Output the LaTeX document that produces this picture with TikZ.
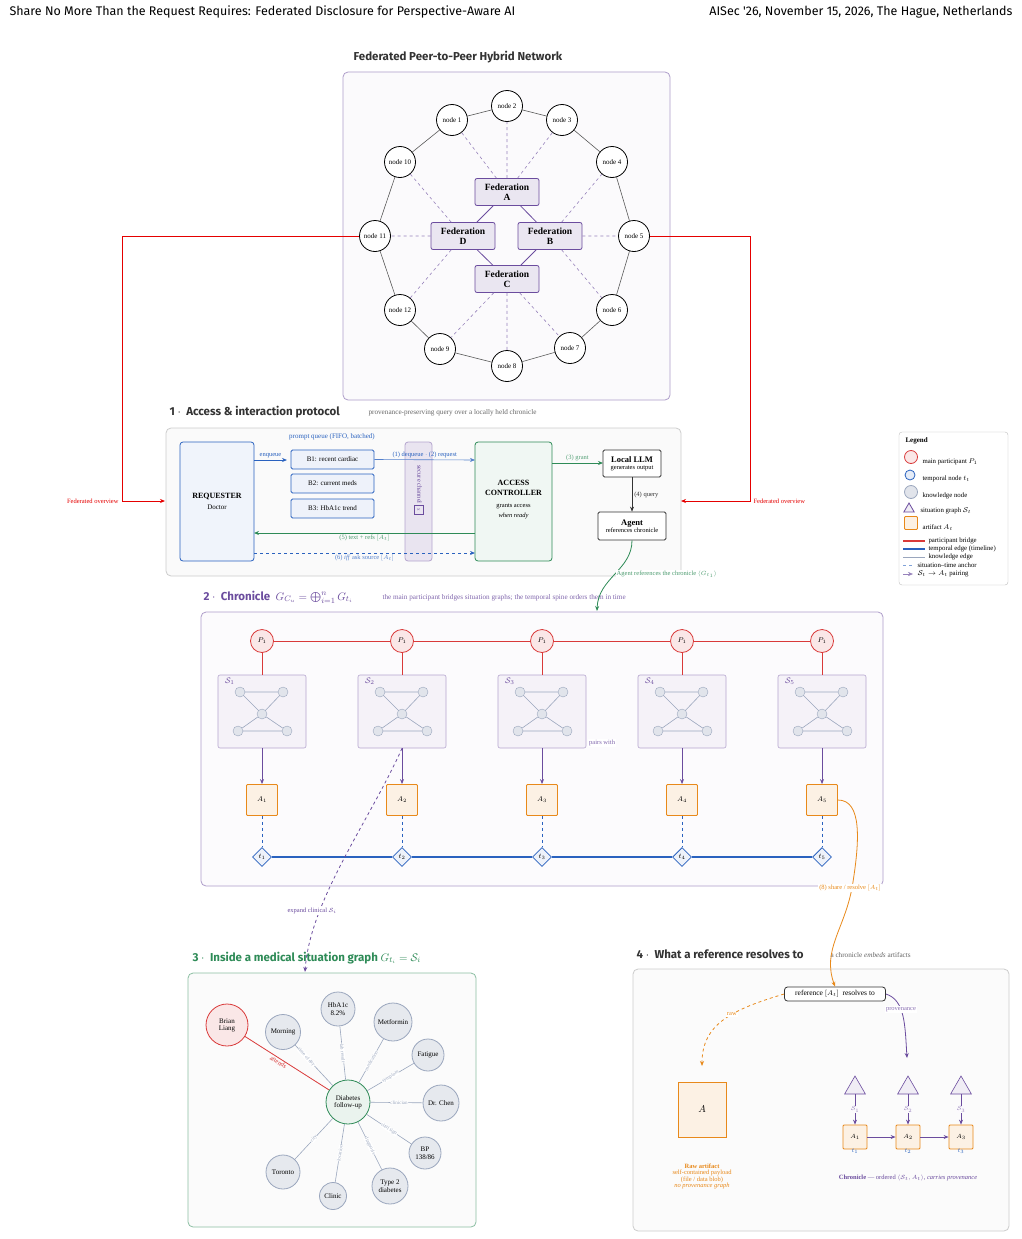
\documentclass[tikz,border=0pt]{standalone}
\usepackage{fontspec}
\setmainfont{Liberation Serif}
\newfontfamily\hsans{Fira Sans}
\usetikzlibrary{shapes.geometric,arrows.meta}
\definecolor{cred}{HTML}{D93A3A}
\definecolor{cblue}{HTML}{2A62BF}
\definecolor{cpur}{HTML}{6B4C9E}
\definecolor{cgreen}{HTML}{2E8B57}
\definecolor{corange}{HTML}{E8891A}
\definecolor{cgray}{HTML}{9AA6BD}
\definecolor{ctext}{HTML}{333333}
\begin{document}
\begin{tikzpicture}[x=1pt,y=-1pt,
  fs/.style={font=\fontsize{#1}{#1}\selectfont},
  ring/.style={circle,draw,thick,minimum size=31,inner sep=0,font=\fontsize{7}{7}\selectfont},
  fed/.style={rectangle,rounded corners=2,draw=cpur,fill=cpur!14,thick,minimum width=64,minimum height=27,align=center,font=\fontsize{9.5}{10}\selectfont\bfseries,inner sep=1},
  panel/.style={rounded corners=5,draw=#1,thick},
  box/.style={rectangle,rounded corners=1.5,draw,thick,align=center,inner sep=1},
  kn/.style={circle,draw=cgray,fill=cgray!25,thick,inner sep=0,align=center,font=\fontsize{7}{8}\selectfont},
  el/.style={sloped,fill=white,inner sep=0.3,text=cgray,font=\fontsize{5}{5}\selectfont},
  sn/.style={circle,draw=cgray,fill=cgray!30,inner sep=0,minimum size=10},
  art/.style={rectangle,rounded corners=1,draw=corange,fill=corange!12,thick,minimum size=31,inner sep=0,font=\fontsize{7.5}{8}\selectfont},
  arr/.style={-{Stealth[length=5,width=4]}},
  title/.style={anchor=west,font=\hsans\bfseries\fontsize{11.5}{12}\selectfont},
  sub/.style={anchor=west,font=\fontsize{7.2}{8}\selectfont},
  lgt/.style={anchor=west,font=\fontsize{6.8}{7}\selectfont},
]
\useasboundingbox (0,0) rectangle (1021,1239);
\fill[white] (0,0) rectangle (1021,1239);
% header
\node[anchor=west,font=\hsans\fontsize{12.5}{13}\selectfont,text=black] (h1) at (6,12) {Share No More Than the Request Requires: Federated Disclosure for Perspective-Aware AI};
\node[anchor=east,font=\hsans\fontsize{12.5}{13}\selectfont,text=black] (h2) at (1016,12) {AISec '26, November 15, 2026, The Hague, Netherlands};

% ===== network =====
\node[font=\hsans\bfseries\fontsize{11.5}{12}\selectfont,text=ctext] (nt) at (458,57) {Federated Peer-to-Peer Hybrid Network};
\draw[panel=cpur!55,fill=cpur!3] (343,72) rectangle (670,400);
\foreach \n/\x/\y in {1/452/120,2/507/106,3/562/120,4/612/162,5/634/236,6/612/310,7/570/348,8/507/366,9/440/349,12/400/310,11/375/236,10/400/162}
  \node[ring,fill=white] (n\n) at (\x,\y) {node \n};
\foreach \a/\b in {1/2,2/3,3/4,4/5,5/6,6/7,7/8,8/9,9/12,12/11,11/10,10/1}
  \draw[gray!70!black,semithick] (n\a) -- (n\b);
\node[fed] (fA) at (507,192) {Federation\\A};
\node[fed] (fD) at (463,236) {Federation\\D};
\node[fed] (fB) at (550,236) {Federation\\B};
\node[fed] (fC) at (507,279) {Federation\\C};
\draw[cpur,thick] (fA) -- (fD) (fA) -- (fB) (fD) -- (fC) (fB) -- (fC);
\foreach \f/\a/\b/\c in {A/1/2/3,B/4/5/6,C/7/8/9,D/10/11/12}
  \draw[cpur!70,dashed,semithick] (f\f) -- (n\a) (f\f) -- (n\b) (f\f) -- (n\c);

% ===== section 1 =====
\node[title,text=ctext] (t1) at (166,412) {1 $\cdot$\ \ Access \& interaction protocol};
\node[sub,text=gray!80!black] (t1s) at (365,413) {provenance-preserving query over a locally held chronicle};
\draw[panel=gray!40,fill=gray!4] (166,428) rectangle (681,576);
\node[box,draw=cblue,fill=cblue!7,minimum width=74,minimum height=119,rounded corners=3] (req) at (217,501.5) {};
\node[font=\fontsize{8}{10}\selectfont,align=center] (reqt) at (217,501) {\textbf{REQUESTER}\\[1pt]{\fontsize{7}{7}\selectfont Doctor}};
\node[text=cblue,fs=7] (pq) at (332,437) {prompt queue (FIFO, batched)};
\node[box,draw=cblue,fill=cblue!8,minimum width=83,minimum height=19,fs=7] (b1) at (332.5,459.5) {B1: recent cardiac};
\node[box,draw=cblue,fill=cblue!8,minimum width=83,minimum height=19,fs=7] (b2) at (332.5,483.5) {B2: current meds};
\node[box,draw=cblue,fill=cblue!8,minimum width=83,minimum height=19,fs=7] (b3) at (332.5,508.5) {B3: HbA1c trend};
\node[box,draw=cpur!50,fill=cpur!15,minimum width=27,minimum height=119,rounded corners=3] (sec) at (418.5,501.5) {};
\node[rotate=-90,text=cpur,fs=6.5] (sect) at (418.5,490) {secure channel \fbox{\tiny x}};
\node[box,draw=cgreen,fill=cgreen!7,minimum width=77,minimum height=119,rounded corners=3] (ac) at (513.5,501.5) {};
\node[font=\fontsize{8}{10}\selectfont,align=center] (act) at (513.5,500) {\textbf{ACCESS}\\\textbf{CONTROLLER}\\[2pt]{\fontsize{6.5}{8.5}\selectfont grants access}\\{\fontsize{6.5}{8.5}\selectfont\itshape when ready}};
\node[box,draw=ctext,fill=white,minimum width=58,minimum height=27,fs=6.5] (llm) at (632,463.5) {{\fontsize{8.5}{9.5}\selectfont\bfseries Local LLM}\\generates output};
\node[box,draw=ctext,fill=white,minimum width=68,minimum height=28,fs=6.5] (ag) at (632,526) {{\fontsize{8.5}{9.5}\selectfont\bfseries Agent}\\references chronicle};
\coordinate (eqs) at (254,460); \coordinate (eqe) at (287,460);
\draw[cblue,thick,arr] (eqs) -- node[above,fs=6.5,inner sep=1.5,text=cblue]{enqueue} (eqe);
\coordinate (dq) at (475,460);
\draw[cblue!80,semithick,arr] (b1.east) -- node[above,fs=6.5,inner sep=1.5,text=cblue]{(1) dequeue $\cdot$ (2) request} (dq);
\coordinate (gs) at (552,463); \coordinate (ge) at (603,463);
\draw[cgreen,thick,arr] (gs) -- node[above,fs=6.5,inner sep=1.5,text=cgreen!80]{(3) grant} (ge);
\draw[ctext,semithick,arr] (llm) -- node[right,fs=6.5,inner sep=2]{(4) query} (ag);
\coordinate (r5s) at (475,533); \coordinate (r5e) at (254,533);
\draw[cgreen,thick,arr] (r5s) -- node[below,fs=6.5,text=cgreen!85,inner sep=2]{(5) text + refs $[A_t]$} (r5e);
\coordinate (r6s) at (254,553); \coordinate (r6e) at (475,553);
\draw[cblue,thick,dashed,arr] (r6s) -- node[below,fs=6.5,text=cblue!80,inner sep=2]{(6) \textit{iff} ask source $[A_t]$} (r6e);
% red bridges
\coordinate (rl1) at (122,236); \coordinate (rl2) at (122,501); \coordinate (rl3) at (165,501);
\draw[red!90!black,thick,arr] (n11.west) -- (rl1) -- (rl2) -- (rl3);
\node[fs=6.5,text=red!90!black,anchor=east] (fo1) at (122,501) {Federated overview};
\coordinate (rr1) at (750,236); \coordinate (rr2) at (750,501); \coordinate (rr3) at (681,501);
\draw[red!90!black,thick,arr] (n5.east) -- (rr1) -- (rr2) -- (rr3);
\node[fs=6.5,text=red!90!black,anchor=west] (fo2) at (750,501) {Federated overview};

% ===== legend =====
\draw[rounded corners=3,draw=gray!50,fill=white] (899,432) rectangle (1008,585);
\node[anchor=west,font=\fontsize{7}{7}\selectfont\bfseries] (lg) at (902,441) {Legend};
\node[circle,draw=cred,fill=cred!12,thick,minimum size=13,inner sep=0] (lg1) at (911,457) {};
\node[lgt] (lg1t) at (919,462) {main participant $P_1$};
\node[circle,draw=cblue,fill=cblue!12,thick,minimum size=10,inner sep=0] (lg2) at (910,475) {};
\node[lgt] (lg2t) at (919,479) {temporal node $t_t$};
\node[circle,draw=cgray,fill=cgray!30,thick,minimum size=13,inner sep=0] (lg3) at (911,492) {};
\node[lgt] (lg3t) at (919,496) {knowledge node};
\node[regular polygon,regular polygon sides=3,draw=cpur,fill=cpur!10,thick,minimum size=12,inner sep=0] (lg4) at (909,509) {};
\node[lgt] (lg4t) at (917,511) {situation graph $\mathcal{S}_t$};
\node[rectangle,rounded corners=1,draw=corange,fill=corange!12,thick,minimum size=13,inner sep=0] (lg5) at (911,523) {};
\node[lgt] (lg5t) at (919,528) {artifact $A_t$};
\coordinate (la1) at (903,541); \coordinate (lb1) at (925,541);
\draw[cred,very thick] (la1) -- (lb1);
\node[lgt] (lg6) at (925,541) {participant bridge};
\coordinate (la2) at (903,549); \coordinate (lb2) at (925,549);
\draw[cblue,very thick] (la2) -- (lb2);
\node[lgt] (lg7) at (925,549) {temporal edge (timeline)};
\coordinate (la3) at (903,557); \coordinate (lb3) at (925,557);
\draw[cgray,thick] (la3) -- (lb3);
\node[lgt] (lg8) at (925,557) {knowledge edge};
\coordinate (la4) at (903,565); \coordinate (lb4) at (913,565);
\draw[cblue!60,dashed] (la4) -- (lb4);
\node[lgt] (lg9) at (914,565) {situation--time anchor};
\coordinate (la5) at (903,574); \coordinate (lb5) at (913,574);
\draw[cpur!70,arr] (la5) -- (lb5);
\node[lgt] (lg10) at (914,574) {$\mathcal{S}_t\to A_t$ pairing};

% ===== section 2 =====
\node[title,text=cpur] (t2) at (200,597) {2 $\cdot$\ \ Chronicle\ \ {\mdseries\fontsize{11}{12}\selectfont $G_{C_u}=\bigoplus_{i=1}^{n}G_{t_i}$}};
\node[sub,text=cpur!85] (t2s) at (379,598) {the main participant bridges situation graphs; the temporal spine orders them in time};
\draw[panel=cpur!55,fill=cpur!2] (201,612) rectangle (883,886);
\foreach \i/\x in {1/262,2/402,3/542,4/682,5/822}{
  \node[circle,draw=cred,fill=cred!12,thick,minimum size=23,inner sep=0,fs=7.5] (p\i) at (\x,641) {$P_1$};
  \node[rectangle,rounded corners=2,draw=cpur!50,fill=cpur!7,semithick,minimum width=88,minimum height=73] (s\i) at (\x,711.5) {};
  \node[anchor=north west,text=cpur,fs=8,inner sep=1] at (\x-38,677) {$\mathcal{S}_{\i}$};
  \node[sn] (sa\i) at (\x-22,692) {};
  \node[sn] (sb\i) at (\x+21,692) {};
  \node[sn] (sc\i) at (\x,714) {};
  \node[sn] (sd\i) at (\x-24,731) {};
  \node[sn] (se\i) at (\x+25,731) {};
  \draw[cgray,semithick] (sa\i) -- (sb\i) (sd\i) -- (se\i) (sa\i) -- (sc\i) (sb\i) -- (sc\i) (sc\i) -- (sd\i) (sc\i) -- (se\i);
  \node[art] (a\i) at (\x,800) {$A_{\i}$};
  \node[diamond,draw=cblue,fill=cblue!8,thick,minimum size=19,inner sep=0,fs=7.5] (t\i) at (\x,857) {$t_{\i}$};
  \draw[cred,thick] (p\i) -- (s\i);
  \draw[cpur,thick,arr] (s\i) -- (a\i);
  \draw[cblue,semithick,dashed] (a\i) -- (t\i);
}
\foreach \a/\b in {1/2,2/3,3/4,4/5}{
  \draw[cred,thick] (p\a) -- (p\b);
  \draw[cblue,very thick] (t\a) -- (t\b);}
\node[anchor=west,fs=6.5,text=cpur!85,fill=white,inner sep=1] (pw) at (588,743) {pairs with};
% agent curve
\coordinate (c2) at (597,611);
\draw[cgreen,thick,arr] (ag.south) .. controls (632,570) and (598,578) .. (c2);
\node[anchor=west,fs=6.5,text=cgreen!85,fill=white,inner sep=0.5] (agl) at (616,574) {Agent references the chronicle $\langle G_{t_1}\rangle$};

% ===== section 3 =====
\node[title,text=cgreen] (t3) at (189,958) {3 $\cdot$\ \ Inside a medical situation graph {\mdseries\fontsize{11}{12}\selectfont $G_{t_i}=\mathcal{S}_i$}};
\draw[panel=cgreen!55,fill=gray!3] (188,973) rectangle (476,1227);
\coordinate (c3) at (305,972);
\draw[cpur,thick,dashed,arr] (s2.south) .. controls (370,820) and (310,900) .. (c3);
\node[fs=6.5,text=cpur,fill=white,inner sep=1] (exl) at (312,911) {expand clinical $\mathcal{S}_i$};
\node[circle,draw=cgreen,fill=cgreen!10,thick,minimum size=44,inner sep=0,align=center,fs=7] (dia) at (348,1102) {Diabetes\\follow-up};
\node[circle,draw=cred,fill=cred!12,thick,minimum size=42,inner sep=0,align=center,fs=7] (bri) at (227,1025) {Brian\\Liang};
\node[kn,minimum size=35] (mor) at (283,1032) {Morning};
\node[kn,minimum size=34] (hba) at (338,1009) {HbA1c\\8.2\%};
\node[kn,minimum size=38] (met) at (393,1022) {Metformin};
\node[kn,minimum size=32] (fat) at (428,1055) {Fatigue};
\node[kn,minimum size=36] (drc) at (441,1103) {Dr. Chen};
\node[kn,minimum size=32] (bp) at (425,1153) {BP\\138/86};
\node[kn,minimum size=36] (ty2) at (390,1186) {Type 2\\diabetes};
\node[kn,minimum size=27] (cli) at (333,1196) {Clinic};
\node[kn,minimum size=34] (tor) at (283,1172) {Toronto};
\draw[cred,thick] (bri) -- node[pos=0.42,sloped,below,inner sep=1,text=cred,fs=6.5]{attends} (dia);
\draw[cgray,semithick] (mor) -- node[el,pos=0.3]{time of day} (dia);
\draw[cgray,semithick] (hba) -- node[el,pos=0.5]{lab result} (dia);
\draw[cgray,semithick] (met) -- node[el,pos=0.5]{medication} (dia);
\draw[cgray,semithick] (fat) -- node[el,pos=0.5]{symptom} (dia);
\draw[cgray,semithick] (drc) -- node[el,pos=0.45]{clinician} (dia);
\draw[cgray,semithick] (bp) -- node[el,pos=0.5]{vital sign} (dia);
\draw[cgray,semithick] (ty2) -- node[el,pos=0.5]{diagnosis} (dia);
\draw[cgray,semithick] (cli) -- node[el,pos=0.5]{location} (dia);
\draw[cgray,semithick] (tor) -- node[el,pos=0.5]{city} (dia);

% ===== section 4 =====
\node[title,text=ctext] (t4) at (633,954) {4 $\cdot$\ \ What a reference resolves to};
\node[sub,text=gray!80!black] (t4s) at (827,955) {a chronicle \textit{embeds} artifacts};
\draw[panel=gray!40,fill=gray!3] (633,969) rectangle (1009,1231);
\node[box,draw=ctext,fill=white,rounded corners=3,minimum width=101,minimum height=14,fs=7.5] (ref) at (835,994) {reference $[A_t]$\ \ resolves to};
\coordinate (o1) at (852,888);
\draw[corange,thick] (a5.east) .. controls (862,800) and (860,840) .. (o1);
\draw[corange,thick,arr] (o1) .. controls (844,930) and (822,950) .. (ref.north);
\node[fs=6.5,text=corange,fill=white,inner sep=1] (ol) at (850,888) {(8) share / resolve $[A_t]$};
\node[rectangle,draw=corange,fill=corange!12,thick,minimum width=48,minimum height=55,inner sep=0,fs=10] (raw) at (702,1109.5) {$A$};
\coordinate (rawt) at (702,1066);
\draw[corange,thick,dashed,arr] (ref.west) .. controls (730,1010) and (702,1025) .. node[pos=0.4,fs=6.5,text=corange,fill=white,inner sep=1]{raw} (rawt);
\coordinate (prt) at (907,1058);
\draw[cpur,thick,arr] (ref.east) .. controls (905,1000) and (905,1025) .. node[pos=0.4,fs=6.5,text=cpur!80,fill=white,inner sep=1]{provenance} (prt);
\node[align=center,fs=6.5,text=corange,anchor=north] (rawtx) at (702,1160) {{\bfseries Raw artifact}\\self-contained payload\\(file / data blob)\\\textit{no provenance graph}};
\foreach \i/\x in {1/855,2/908,3/961}{
  \node[regular polygon,regular polygon sides=3,draw=cpur,fill=cpur!10,semithick,minimum size=24,inner sep=0] (tr\i) at (\x,1088) {};
  \node[art,minimum size=24,font=\fontsize{6.5}{7}\selectfont] (aa\i) at (\x,1137) {$A_{\i}$};
  \draw[cpur,thick,arr] (tr\i.south) -- node[fs=6.5,text=cpur!70,fill=cpur!3,inner sep=0.5]{$\mathcal{S}_{\i}$} (aa\i);
  \node[fs=6.5,text=cblue,inner sep=0] at (\x,1151) {$t_{\i}$};
}
\draw[cpur,thick,arr] (aa1) -- (aa2);
\draw[cpur,thick,arr] (aa2) -- (aa3);
\node[fs=6.5,text=cpur] (chr) at (908,1178) {\textbf{Chronicle} --- ordered $\langle\mathcal{S}_t,A_t\rangle$, \textit{carries provenance}};
\end{tikzpicture}
\end{document}
